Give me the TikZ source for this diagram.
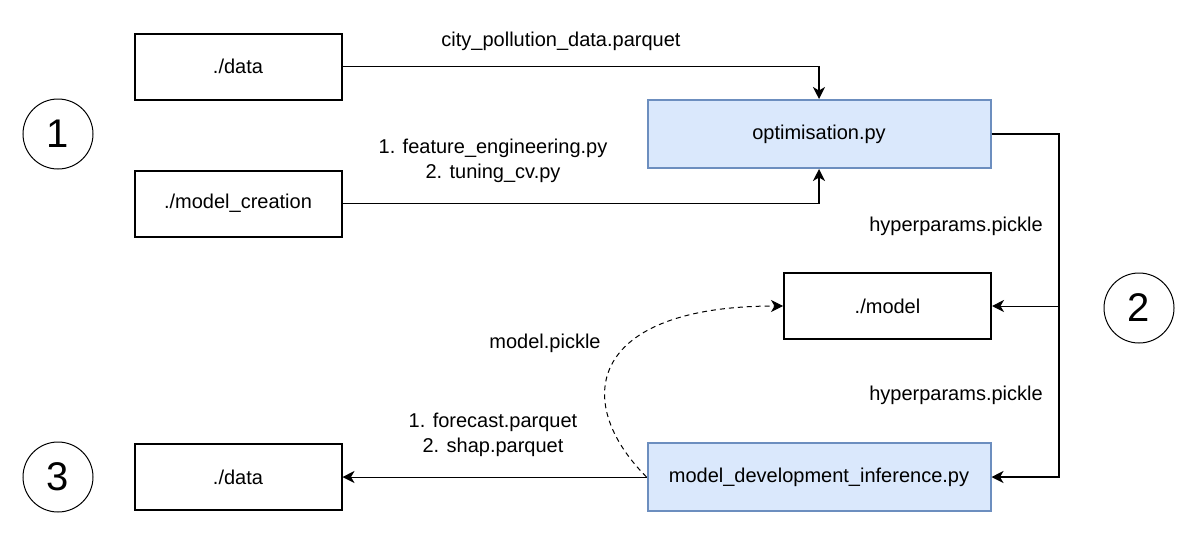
\documentclass[tikz,border=0pt]{standalone}
\usepackage{fontspec}
\setmainfont{Liberation Sans}
\usetikzlibrary{arrows.meta}
\definecolor{bfill}{HTML}{DAE8FC}
\definecolor{bdraw}{HTML}{6C8EBF}
\begin{document}
\begin{tikzpicture}[x=1pt,y=-1pt,
  every node/.style={font=\fontsize{20}{25}\selectfont},
  plainbox/.style={draw=black, line width=2pt, minimum width=207pt, minimum height=66pt, inner sep=0pt},
  bluebox/.style={draw=bdraw, fill=bfill, line width=2pt, minimum width=343pt, minimum height=68pt, inner sep=0pt},
  numcirc/.style={draw=black, line width=1pt, circle, minimum size=70pt, inner sep=0pt, font=\fontsize{40}{40}\selectfont},
  conn/.style={line width=1.5pt, -{Stealth[length=12pt,width=12pt,inset=3.5pt]}},
  thinconn/.style={line width=1pt, -{Stealth[length=12pt,width=12pt,inset=3.5pt]}},
  lbl/.style={align=center, inner sep=0pt}]
\useasboundingbox (0,0) rectangle (1185,538);
\node[plainbox] (d1) at (238,66.5) {./data};
\node[plainbox] (mc) at (238,203.5) {./model\_creation};
\node[bluebox] (opt) at (819,134) {optimisation.py};
\node[plainbox] (mdl) at (887.5,306) {./model};
\node[bluebox] (mdi) at (819,477) {model\_development\_inference.py};
\node[plainbox] (d2) at (238,477) {./data};
\node[numcirc] (c1) at (58,134) {1};
\node[numcirc] (c2) at (1139,308) {2};
\node[numcirc] (c3) at (58,477) {3};
\coordinate (j1) at (1059,134);
\coordinate (j2) at (1059,306);
\draw[conn] (d1.east) -| (opt.north);
\draw[conn] (mc.east) -| (opt.south);
\draw[conn] (opt.east) -- (j1) |- (mdi.east);
\draw[thinconn] (j2) -- (mdl.east);
\draw[thinconn] (mdi.west) -- (d2.east);
\draw[thinconn, dashed, dash pattern=on 5pt off 4pt] (mdi.west) .. controls (570,400) and (590,306) .. (mdl.west);
\node[lbl] (l1) at (561,41) {city\_pollution\_data.parquet};
\node[lbl] (l2) at (493,161) {1. feature\_engineering.py\\2. tuning\_cv.py};
\node[lbl] (l3) at (956,226) {hyperparams.pickle};
\node[lbl] (l4) at (956,395) {hyperparams.pickle};
\node[lbl] (l5) at (545,343) {model.pickle};
\node[lbl] (l6) at (493,435) {1. forecast.parquet\\2. shap.parquet};
\end{tikzpicture}
\end{document}
